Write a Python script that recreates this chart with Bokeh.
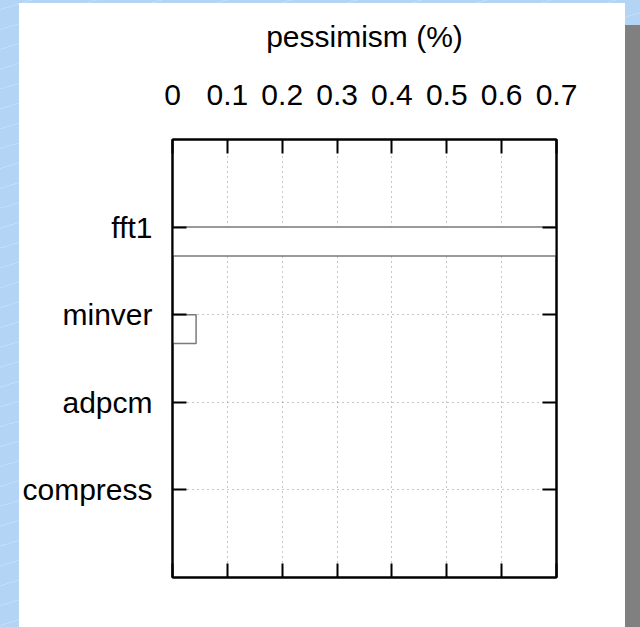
from bokeh.plotting import figure
from bokeh.models import Range1d, FixedTicker, LinearAxis, NumeralTickFormatter
from bokeh.embed import file_html
from bokeh.resources import INLINE

# benchmark pessimism, in percent
benchmarks = ["fft1", "minver", "adpcm", "compress"]
pessimism = [0.70, 0.043, 0.0, 0.0]
x_ticks = [0, 0.1, 0.2, 0.3, 0.4, 0.5, 0.6, 0.7]

FONT = "Liberation Sans"
FS = "30px"
BAR_H = 0.33

# frame placement on the canvas (pixels)
W, H = 640, 627
FL, FR, FT, FB = 172, 556, 139, 577

n = len(benchmarks)
y_pos = [n - 1 - i for i in range(n)]          # first benchmark on top
bar_y = [y - BAR_H / 2 for y in y_pos]          # bars hang below their tick

p = figure(width=W, height=H, x_range=Range1d(0, 0.7), y_range=Range1d(-1, n),
           x_axis_location="above", output_backend="svg", toolbar_location=None,
           min_border_left=FL, min_border_right=W - FR,
           min_border_top=FT, min_border_bottom=H - FB)

# white sheet with a drop shadow, laid on a light blue backdrop
BLUE = "#b4d4f5"
STRIPE = "#c3ddf8"
p.border_fill_color = None
p.background_fill_color = "white"
p.styles = {
    "background": (
        "linear-gradient(#808080, #808080) 625px 25px / 15px 602px no-repeat, "
        "linear-gradient(#ffffff, #ffffff) 19px 3px / 606px 624px no-repeat, "
        "repeating-linear-gradient(-17deg, " + BLUE + " 0px, " + BLUE + " 17px, "
        + STRIPE + " 17px, " + STRIPE + " 18px, " + BLUE + " 18px, " + BLUE + " 19px), "
        + BLUE
    )
}
p.outline_line_color = "black"
p.outline_line_width = 2

p.hbar(y=bar_y, height=BAR_H, left=0, right=pessimism,
       fill_color="white", line_color="#7a7a7a", line_width=1.5)

x_ticker = FixedTicker(ticks=x_ticks)
y_ticker = FixedTicker(ticks=y_pos)

p.xgrid.ticker = x_ticker
p.ygrid.ticker = y_ticker
p.grid.grid_line_color = "#8c8c8c"
p.grid.grid_line_dash = "1 4"
p.grid.grid_line_width = 1


def style_axis(ax, labels=True):
    ax.axis_line_color = "black"
    ax.axis_line_width = 2
    ax.major_tick_in = 14
    ax.major_tick_out = 0
    ax.major_tick_line_color = "black"
    ax.major_tick_line_width = 2
    ax.minor_tick_line_color = None
    ax.major_label_text_font = FONT
    ax.major_label_text_font_size = FS
    ax.major_label_text_color = "black" if labels else None


top = p.xaxis[0]
top.ticker = x_ticker
top.formatter = NumeralTickFormatter(format="0.[0]")
style_axis(top)
top.major_label_standoff = 35
top.axis_label = "pessimism (%)"
top.axis_label_text_font = FONT
top.axis_label_text_font_size = FS
top.axis_label_text_font_style = "normal"
top.axis_label_text_color = "black"
top.axis_label_standoff = 29

left = p.yaxis[0]
left.ticker = y_ticker
left.major_label_overrides = dict(zip(y_pos, benchmarks))
style_axis(left)
left.major_label_standoff = 20

bottom = LinearAxis(ticker=x_ticker)
style_axis(bottom, labels=False)
p.add_layout(bottom, "below")

right = LinearAxis(ticker=y_ticker)
style_axis(right, labels=False)
p.add_layout(right, "right")

open("out.html", "w").write(file_html(p, INLINE))
